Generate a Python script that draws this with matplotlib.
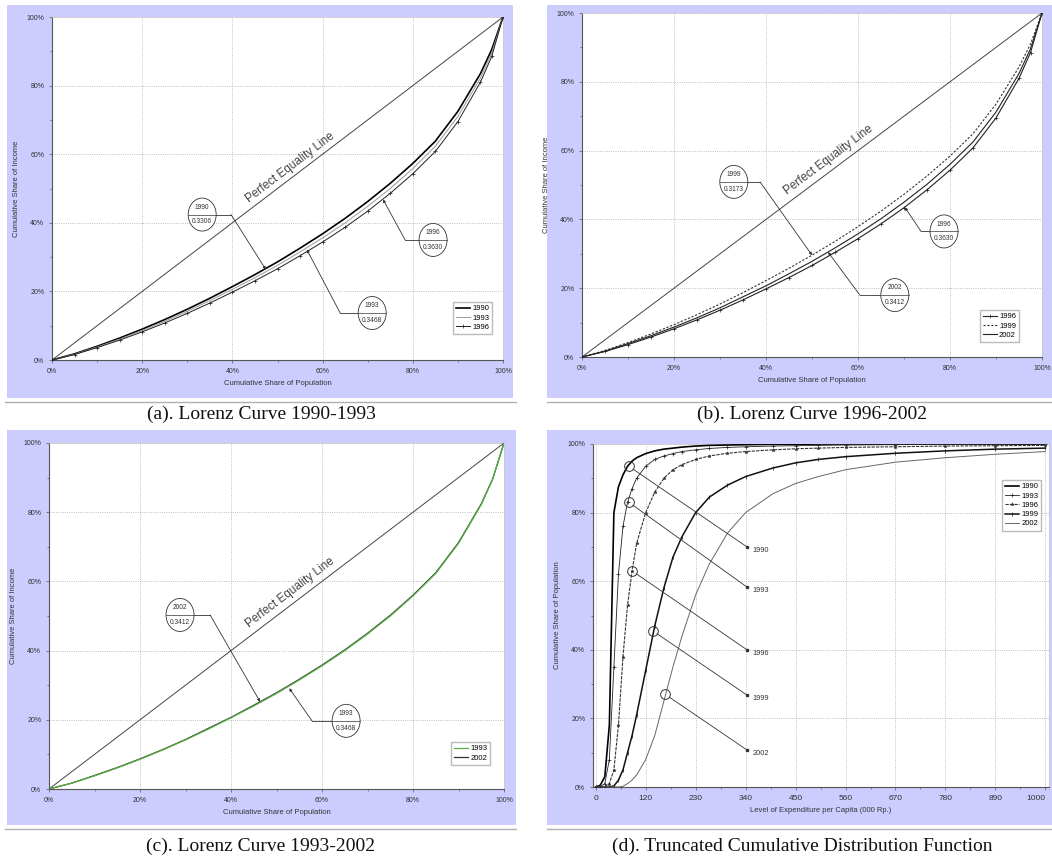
import matplotlib
matplotlib.use("Agg")
import matplotlib.pyplot as plt
from matplotlib.patches import Rectangle, Ellipse
from matplotlib.lines import Line2D
from matplotlib.ticker import FixedLocator, MultipleLocator, FuncFormatter

plt.rcParams['font.family'] = ['Liberation Sans', 'DejaVu Sans']

# ---------------- data ----------------
pop_share = [0, .05, .10, .15, .20, .25, .30, .35, .40, .45, .50, .55, .60, .65,
             .70, .75, .80, .85, .90, .95, .975, 1.0]
inc_1990 = [0, .018, .040, .064, .090, .118, .148, .180, .214, .249, .286, .326, .368, .413,
            .462, .515, .573, .638, .725, .835, .905, 1.0]
inc_1993 = [0, .017, .038, .061, .086, .113, .142, .173, .206, .240, .276, .315, .356, .400,
            .448, .500, .558, .623, .710, .822, .895, 1.0]
inc_1996 = [0, .016, .036, .058, .082, .108, .136, .166, .198, .231, .266, .304, .344, .387,
            .434, .486, .543, .608, .695, .810, .885, 1.0]
inc_1999 = [0, .019, .042, .067, .094, .123, .154, .187, .222, .258, .296, .336, .379, .424,
            .473, .526, .584, .649, .735, .843, .910, 1.0]
inc_2002 = [0, .017, .039, .062, .087, .114, .143, .175, .207, .242, .278, .317, .358, .402,
            .450, .502, .560, .625, .712, .824, .896, 1.0]
equality_x = [0, 1]
equality_y = [0, 1]

gini = {'1990': '0.3306', '1993': '0.3468', '1996': '0.3630', '1999': '0.3173', '2002': '0.3412'}

exp_level = [10, 20, 30, 40, 50, 60, 70, 80, 90, 100, 120, 140, 160, 180, 200, 230, 260, 300,
             340, 400, 450, 500, 560, 670, 780, 890, 1000]
cdf_1990 = [0, .005, .03, .18, .80, .875, .91, .935, .95, .96, .972, .98, .985, .988, .991, .994,
            .996, .997, .998, .999, .999, 1, 1, 1, 1, 1, 1]
cdf_1993 = [0, 0, .01, .08, .35, .62, .76, .83, .87, .90, .935, .955, .965, .972, .978, .983,
            .987, .99, .992, .994, .995, .996, .997, .998, .999, .999, 1.0]
cdf_1996 = [0, 0, 0, .01, .05, .18, .38, .53, .63, .71, .80, .86, .90, .925, .94, .955, .965,
            .973, .978, .983, .986, .988, .99, .992, .994, .995, .996]
cdf_1999 = [0, 0, 0, 0, .003, .02, .05, .10, .15, .21, .34, .47, .58, .67, .73, .80, .845, .88,
            .905, .93, .945, .955, .963, .973, .98, .985, .988]
cdf_2002 = [0, 0, 0, 0, 0, 0, .002, .01, .02, .035, .08, .15, .25, .35, .44, .56, .65, .74, .80,
            .855, .885, .905, .925, .947, .96, .97, .978]
exp_ticks = [10, 120, 230, 340, 450, 560, 670, 780, 890, 1000]
exp_ticklabels = ['0', '120', '230', '340', '450', '560', '670', '780', '890', '1000']

captions = ['(a). Lorenz Curve 1990-1993', '(b). Lorenz Curve 1996-2002',
            '(c). Lorenz Curve 1993-2002', '(d). Truncated Cumulative Distribution Function']

# ---------------- layout ----------------
W, H = 1052, 859
fig = plt.figure(figsize=(W / 100, H / 100), dpi=100)
LAV = '#CCCCFF'
TXT = '#333333'


def fig_rect(x0, y0, x1, y1, **kw):
    fig.patches.append(Rectangle((x0 / W, 1 - y1 / H), (x1 - x0) / W, (y1 - y0) / H,
                                 transform=fig.transFigure, **kw))


def ax_at(x0, y0, x1, y1):
    return fig.add_axes([x0 / W, 1 - y1 / H, (x1 - x0) / W, (y1 - y0) / H])


for (x0, y0, x1, y1) in [(7, 5, 513, 398), (547, 5, 1052, 398), (7, 430, 516, 825), (547, 430, 1052, 825)]:
    fig_rect(x0, y0, x1, y1, fc=LAV, ec='none', zorder=-5)
for (x0, x1, y) in [(5, 516, 402), (547, 1052, 402), (5, 516, 829), (547, 1052, 829)]:
    fig.add_artist(Line2D([x0 / W, x1 / W], [1 - y / H] * 2, color='#b0b0b0', lw=1.0, zorder=-4))

cap_pos = [(261, 414), (812, 414), (261, 846), (802, 846)]
for c, (cx, cy) in zip(captions, cap_pos):
    fig.text(cx / W, 1 - cy / H, c, ha='center', va='center', fontsize=14,
             family='Liberation Serif', color='#111111')

pct = FuncFormatter(lambda v, p: f"{int(round(v * 100))}%")


def style_axes(ax, xlabel, ylabel):
    ax.set_facecolor('white')
    for s in ['left', 'bottom']:
        ax.spines[s].set_color('#555555')
        ax.spines[s].set_linewidth(0.8)
    for s in ['top', 'right']:
        ax.spines[s].set_color('#c8c8c8')
        ax.spines[s].set_linewidth(0.5)
    ax.tick_params(which='major', length=2.5, width=0.5, labelsize=5, colors='#555555',
                   labelcolor=TXT, pad=3)
    ax.tick_params(which='minor', length=1.5, width=0.5, colors='#555555')
    ax.grid(True, which='major', ls=':', color='#aaaaaa', lw=0.6)
    ax.set_xlabel(xlabel, fontsize=5.5, color=TXT, labelpad=4)
    ax.set_ylabel(ylabel, fontsize=5.5, color=TXT, labelpad=5)


def lorenz_axes(ax):
    ax.set_xlim(0, 1)
    ax.set_ylim(0, 1)
    ax.xaxis.set_major_locator(MultipleLocator(0.2))
    ax.xaxis.set_minor_locator(MultipleLocator(0.1))
    ax.yaxis.set_major_locator(MultipleLocator(0.2))
    ax.yaxis.set_minor_locator(MultipleLocator(0.1))
    ax.xaxis.set_major_formatter(pct)
    ax.yaxis.set_major_formatter(pct)
    style_axes(ax, 'Cumulative Share of Population', 'Cumulative Share of Income')
    ax.plot(equality_x, equality_y, color='#444444', lw=0.7, zorder=3)


def eq_text(ax, x, y):
    ax.text(x, y, 'Perfect Equality Line', rotation=45, transform_rotates_text=True,
            ha='center', va='center', fontsize=8.5, color='#444444', rotation_mode='anchor')


def gini_label(ax, cx, cy, year, curve_pt, elbow_x):
    bb = ax.get_position()
    w = 28 / (bb.width * W)
    h = 33 / (bb.height * H)
    ax.add_patch(Ellipse((cx, cy), w, h, fc='white', ec='#333333', lw=0.6, zorder=6))
    ax.plot([cx - w / 2, cx + w / 2], [cy, cy], color='#333333', lw=0.5, zorder=7)
    edge = cx + w / 2 if elbow_x > cx else cx - w / 2
    ax.plot([edge, elbow_x], [cy, cy], color='#333333', lw=0.6, zorder=5)
    ax.annotate('', xy=curve_pt, xytext=(elbow_x, cy),
                arrowprops=dict(arrowstyle='-|>', lw=0.6, color='#333333', mutation_scale=4,
                                shrinkA=0, shrinkB=0), zorder=5)
    ax.text(cx, cy + h * 0.22, year, ha='center', va='center', fontsize=4.8, color=TXT, zorder=8)
    ax.text(cx, cy - h * 0.22, gini[year], ha='center', va='center', fontsize=4.8, color=TXT, zorder=8)


leg_kw = dict(loc='upper left', fontsize=5.5, frameon=True, fancybox=False, edgecolor='#bbbbbb',
              framealpha=1, borderpad=0.4, handlelength=1.8, labelspacing=0.25, handletextpad=0.3,
              borderaxespad=0)

# ---------------- (a) ----------------
axa = ax_at(52, 17, 503, 360)
lorenz_axes(axa)
axa.plot(pop_share, inc_1990, color='black', lw=1.2, label='1990', zorder=4)
axa.plot(pop_share, inc_1993, color='#999999', lw=0.7, label='1993', zorder=4)
axa.plot(pop_share, inc_1996, color='#222222', lw=0.7, marker='+', ms=2.5, mew=0.5, label='1996', zorder=4)
eq_text(axa, 0.528, 0.56)
gini_label(axa, 0.333, 0.424, '1990', (0.474, 0.264), 0.397)
gini_label(axa, 0.71, 0.137, '1993', (0.565, 0.322), 0.639)
gini_label(axa, 0.845, 0.35, '1996', (0.734, 0.468), 0.783)
axa.legend(bbox_to_anchor=(0.889, 0.169), **leg_kw)

# ---------------- (b) ----------------
axb = ax_at(582, 13, 1042, 357)
lorenz_axes(axb)
axb.plot(pop_share, inc_1996, color='#222222', lw=0.8, marker='+', ms=2.5, mew=0.5, label='1996', zorder=4)
axb.plot(pop_share, inc_1999, color='#333333', lw=0.8, ls=(0, (2, 1.5)), label='1999', zorder=4)
axb.plot(pop_share, inc_2002, color='#222222', lw=0.8, label='2002', zorder=4)
eq_text(axb, 0.535, 0.573)
gini_label(axb, 0.33, 0.509, '1999', (0.50, 0.296), 0.387)
gini_label(axb, 0.68, 0.18, '2002', (0.535, 0.305), 0.604)
gini_label(axb, 0.787, 0.365, '1996', (0.702, 0.435), 0.737)
axb.legend(bbox_to_anchor=(0.865, 0.137), **leg_kw)

# ---------------- (c) ----------------
axc = ax_at(49, 443, 504, 789)
lorenz_axes(axc)
axc.plot(pop_share, inc_2002, color='#333333', lw=0.9, label='2002', zorder=4)
axc.plot(pop_share, inc_1993, color='#55b040', lw=0.9, label='1993', zorder=4)
eq_text(axc, 0.53, 0.569)
gini_label(axc, 0.288, 0.503, '2002', (0.464, 0.252), 0.354)
gini_label(axc, 0.653, 0.197, '1993', (0.528, 0.291), 0.578)
h, l = axc.get_legend_handles_labels()
axc.legend(h[::-1], l[::-1], bbox_to_anchor=(0.884, 0.136), **leg_kw)

# ---------------- (d) ----------------
axd = ax_at(593, 444, 1049, 787)
axd.set_xlim(4, 1008)
axd.set_ylim(0, 1)
axd.xaxis.set_major_locator(FixedLocator(exp_ticks))
axd.set_xticklabels(exp_ticklabels)
axd.xaxis.set_minor_locator(FixedLocator([t + 55 for t in exp_ticks[:-1]]))
axd.yaxis.set_major_locator(MultipleLocator(0.2))
axd.yaxis.set_minor_locator(MultipleLocator(0.1))
axd.yaxis.set_major_formatter(pct)
style_axes(axd, 'Level of Expenditure per Capita (000 Rp.)', 'Cumulative Share of Population')
axd.tick_params(axis='x', labelsize=6)
axd.get_xticklabels()[-1].set_horizontalalignment('right')

series_d = [('1990', cdf_1990, dict(color='black', lw=1.2)),
            ('1993', cdf_1993, dict(color='#222222', lw=0.6, marker='+', ms=3, mew=0.5)),
            ('1996', cdf_1996, dict(color='#333333', lw=0.8, ls=(0, (3, 1)), marker='*', ms=2.5, mew=0.3)),
            ('1999', cdf_1999, dict(color='#111111', lw=1.1, marker='|', ms=3, mew=0.5)),
            ('2002', cdf_2002, dict(color='#666666', lw=0.7))]
for yr, vals, kw in series_d:
    axd.plot(exp_level, vals, label=yr, zorder=4, **kw)

callouts_d = [('1990', (83, 0.935), (343, 0.70)),
              ('1993', (83, 0.83), (343, 0.583)),
              ('1996', (90, 0.63), (343, 0.40)),
              ('1999', (136, 0.455), (343, 0.268)),
              ('2002', (163, 0.27), (343, 0.108))]
for yr, c, e in callouts_d:
    axd.plot([c[0]], [c[1]], marker='o', ms=7, mfc='none', mec='#333333', mew=0.7, zorder=6)
    axd.annotate('', xy=e, xytext=c,
                 arrowprops=dict(arrowstyle='-', lw=0.6, color='#333333', shrinkA=3.5, shrinkB=0),
                 zorder=5)
    axd.plot([e[0]], [e[1]], marker='s', ms=1.6, color='#333333', zorder=6)
    axd.text(e[0] + 12, e[1] - 0.01, yr, fontsize=5.3, color=TXT, ha='left', va='center')

axd.legend(bbox_to_anchor=(0.897, 0.895), **leg_kw)

fig.savefig('out.png', dpi=100)
